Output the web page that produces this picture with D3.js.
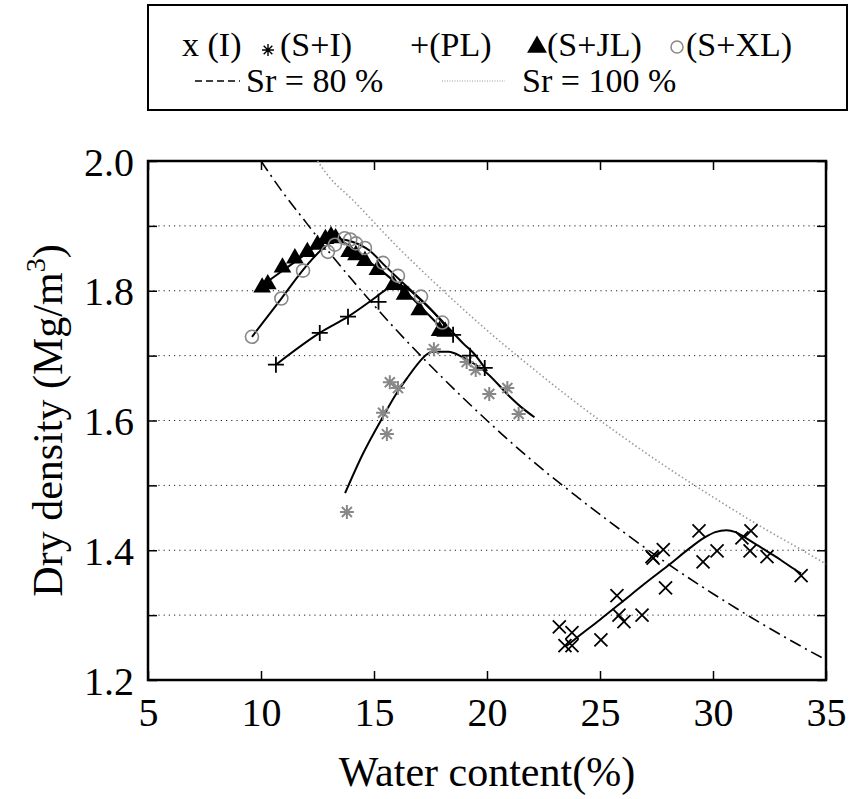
<!DOCTYPE html>
<html>
<head>
<meta charset="utf-8">
<script src="https://cdn.jsdelivr.net/npm/d3@7"></script>
<style>
  body { margin: 0; background: #fff; }
  svg text { font-family: 'Liberation Serif', 'Times New Roman', Times, 'DejaVu Serif', serif; }
</style>
</head>
<body>
<svg id="chart" width="850" height="799"></svg>
<script>
// measured points (water content %, dry density Mg/m3)
const iPts = [[23.2,1.282],[23.76,1.273],[23.45,1.253],[23.76,1.253],[25.04,1.262],[25.75,1.330],[25.84,1.300],[26.06,1.290],[26.86,1.300],[27.3,1.390],[27.35,1.388],[27.8,1.401],[27.9,1.342],[29.38,1.430],[29.56,1.382],[30.18,1.399],[31.28,1.419],[31.68,1.430],[31.64,1.399],[32.39,1.390],[33.9,1.361]];
const siPts = [[13.8,1.459],[15.4,1.612],[15.57,1.579],[15.7,1.659],[16.06,1.650],[17.65,1.710],[19.1,1.690],[19.5,1.678],[20.1,1.641],[20.9,1.650],[21.4,1.610]];
const plPts = [[10.66,1.686],[12.6,1.735],[13.85,1.760],[15.2,1.783],[16.2,1.805],[18.5,1.732],[19.25,1.700],[19.9,1.681]];
const jlPts = [[10.05,1.805],[10.3,1.810],[10.95,1.836],[11.5,1.850],[12.05,1.860],[12.5,1.871],[12.85,1.880],[13.1,1.884],[13.3,1.881],[13.9,1.860],[14.2,1.855],[14.6,1.846],[15.15,1.832],[15.85,1.809],[16.35,1.794],[17.0,1.770],[17.9,1.738],[18.15,1.737]];
const xlPts = [[9.6,1.729],[10.9,1.788],[11.86,1.831],[12.96,1.860],[13.27,1.871],[13.7,1.881],[13.95,1.879],[14.2,1.873],[14.6,1.866],[15.4,1.843],[16.06,1.823],[17.08,1.791],[18.02,1.751]];

// fitted compaction curves
const iFit = [[23.5,1.252],[24,1.266],[25,1.293],[26,1.321],[27,1.349],[28,1.376],[29,1.404],[29.6,1.419],[30.1,1.428],[30.6,1.431],[31.0,1.428],[31.5,1.418],[32,1.407],[32.5,1.396],[33,1.385],[33.5,1.373],[33.9,1.364]];
const siFit = [[13.72,1.488],[14.5,1.548],[15.4,1.606],[16.0,1.642],[16.5,1.667],[17.0,1.690],[17.3,1.701],[17.6,1.706],[18.3,1.706],[18.9,1.698],[19.5,1.686],[20.0,1.673],[21.0,1.637],[21.5,1.621],[22.1,1.605]];
const plFit = [[10.66,1.686],[12.6,1.735],[13.85,1.760],[15.0,1.788],[15.5,1.801],[16.0,1.810],[16.5,1.803],[17.0,1.788],[18.0,1.754],[19.0,1.717],[19.4,1.704],[20.0,1.676]];
const jlFit = [[10.2,1.812],[11.0,1.832],[12.0,1.857],[12.7,1.876],[13.1,1.884],[13.6,1.876],[14.5,1.852],[15.5,1.826],[16.5,1.795],[17.5,1.760],[18.0,1.742]];
const xlFit = [[9.6,1.729],[10.9,1.788],[12.0,1.838],[12.7,1.864],[13.2,1.876],[13.6,1.879],[14.0,1.876],[14.8,1.862],[15.5,1.838],[16.5,1.805],[17.5,1.772],[18.2,1.744]];

// saturation lines
const sr80 = [[10,2.000],[11,1.950],[12,1.905],[13,1.860],[14,1.818],[16,1.739],[18,1.667],[20,1.600],[22,1.538],[24,1.482],[26,1.429],[28,1.379],[30,1.333],[32,1.290],[34,1.250],[35,1.231]];
const sr100 = [[12.5,2.000],[13,1.976],[14,1.942],[16,1.869],[18,1.802],[20,1.739],[22,1.681],[24,1.626],[26,1.575],[28,1.527],[30,1.482],[32,1.439],[34,1.399],[35,1.379]];

const xTicks = [5,10,15,20,25,30,35];
const yTicks = [1.2,1.3,1.4,1.5,1.6,1.7,1.8,1.9,2.0];
const yLabels = [1.2,1.4,1.6,1.8,2.0];

const serif = "'Liberation Serif', 'Times New Roman', Times, 'DejaVu Serif', serif";
const margin = {left: 148, top: 161, right: 24, bottom: 119};
const width = 850 - margin.left - margin.right;
const height = 799 - margin.top - margin.bottom;

const svg = d3.select('#chart').attr('font-family', serif);
const g = svg.append('g').attr('transform', `translate(${margin.left},${margin.top})`);

const x = d3.scaleLinear().domain([5, 35]).range([0, width]);
const y = d3.scaleLinear().domain([1.2, 2.0]).range([height, 0]);

// horizontal dotted grid
g.append('g')
  .selectAll('line')
  .data(yTicks.filter(d => d > 1.2 && d < 2.0))
  .enter().append('line')
  .attr('x1', 0).attr('x2', width)
  .attr('y1', d => y(d)).attr('y2', d => y(d))
  .attr('stroke', '#222')
  .attr('stroke-width', 1)
  .attr('stroke-dasharray', '1.2,4');

// axes with inward ticks
const fmt = d => yLabels.some(v => Math.abs(v - d) < 1e-6) ? d.toFixed(1) : '';
const axBottom = g.append('g').attr('transform', `translate(0,${height})`)
  .call(d3.axisBottom(x).tickValues(xTicks).tickSize(-9).tickPadding(14));
const axTop = g.append('g')
  .call(d3.axisTop(x).tickValues(xTicks).tickSize(-9).tickFormat(''));
const axLeft = g.append('g')
  .call(d3.axisLeft(y).tickValues(yTicks).tickSize(-9).tickPadding(14).tickFormat(fmt));
const axRight = g.append('g').attr('transform', `translate(${width},0)`)
  .call(d3.axisRight(y).tickValues(yTicks).tickSize(-9).tickFormat(''));

[axBottom, axTop, axLeft, axRight].forEach(a => {
  a.attr('font-family', serif);
  a.select('.domain').remove();
  a.selectAll('.tick line').attr('stroke', '#000').attr('stroke-width', 1.5);
});
axBottom.selectAll('text').attr('font-size', 40).attr('fill', '#000')
  .attr('y', 18).attr('dy', '0.71em');
axLeft.selectAll('text').attr('font-size', 40).attr('fill', '#000')
  .attr('x', -14).attr('dy', '0.35em');

g.append('rect')
  .attr('width', width).attr('height', height)
  .attr('fill', 'none').attr('stroke', '#000').attr('stroke-width', 2.5);

const smooth = d3.line().x(d => x(d[0])).y(d => y(d[1])).curve(d3.curveMonotoneX);

g.append('path').datum(sr80).attr('d', smooth)
  .attr('fill', 'none').attr('stroke', '#000').attr('stroke-width', 1.6)
  .attr('stroke-dasharray', '12,5,2,5');
g.append('path').datum(sr100).attr('d', smooth)
  .attr('fill', 'none').attr('stroke', '#999').attr('stroke-width', 1.6)
  .attr('stroke-dasharray', '1.5,2.5');

[iFit, siFit, plFit, jlFit, xlFit].forEach(f => {
  g.append('path').datum(f).attr('d', smooth)
    .attr('fill', 'none').attr('stroke', '#000').attr('stroke-width', 2);
});

// marker shapes
const crossPath = s => `M${-s},${-s}L${s},${s}M${-s},${s}L${s},${-s}`;
const plusPath = s => `M${-s},0L${s},0M0,${-s}L0,${s}`;
const starPath = s => { const k = s * 0.72; return plusPath(s) + crossPath(k); };

function markers(pts, pathStr, stroke, sw) {
  g.append('g').selectAll('path').data(pts).enter().append('path')
    .attr('transform', d => `translate(${x(d[0])},${y(d[1])})`)
    .attr('d', pathStr)
    .attr('fill', 'none').attr('stroke', stroke).attr('stroke-width', sw);
}

markers(iPts, crossPath(6.5), '#000', 1.8);
markers(siPts, starPath(7), '#888', 2);
markers(plPts, plusPath(8), '#000', 1.8);

g.append('g').selectAll('path').data(jlPts).enter().append('path')
  .attr('transform', d => `translate(${x(d[0])},${y(d[1])})`)
  .attr('d', d3.symbol(d3.symbolTriangle).size(135))
  .attr('fill', '#000');

g.append('g').selectAll('circle').data(xlPts).enter().append('circle')
  .attr('cx', d => x(d[0])).attr('cy', d => y(d[1])).attr('r', 6.5)
  .attr('fill', 'none').attr('stroke', '#888').attr('stroke-width', 1.6);

// axis titles
svg.append('text')
  .attr('x', margin.left + width / 2).attr('y', 786)
  .attr('text-anchor', 'middle').attr('font-size', 42)
  .text('Water content(%)');

const yt = svg.append('text')
  .attr('transform', `translate(62,${margin.top + height / 2}) rotate(-90)`)
  .attr('text-anchor', 'middle').attr('font-size', 42);
yt.append('tspan').text('Dry density (Mg/m');
yt.append('tspan').attr('font-size', 28).attr('dy', -17).text('3');
yt.append('tspan').attr('dy', 17).text(')');

// legend
const leg = svg.append('g');
leg.append('rect').attr('x', 148).attr('y', 5).attr('width', 699).attr('height', 105)
  .attr('fill', '#fff').attr('stroke', '#000').attr('stroke-width', 2);

const row1 = 56, row2 = 92;
leg.append('text').attr('x', 182).attr('y', row1).attr('font-size', 34).text('x (I)');
leg.append('path').attr('transform', `translate(268,${row1 - 6})`).attr('d', starPath(6))
  .attr('stroke', '#000').attr('stroke-width', 1.4);
leg.append('text').attr('x', 280).attr('y', row1).attr('font-size', 34).text('(S+I)');
leg.append('text').attr('x', 410).attr('y', row1).attr('font-size', 34).text('+(PL)');
leg.append('path').attr('transform', `translate(537,${row1 - 9})`)
  .attr('d', d3.symbol(d3.symbolTriangle).size(170)).attr('fill', '#000');
leg.append('text').attr('x', 547).attr('y', row1).attr('font-size', 34).text('(S+JL)');
leg.append('circle').attr('cx', 677).attr('cy', row1 - 9).attr('r', 6)
  .attr('fill', 'none').attr('stroke', '#888').attr('stroke-width', 1.5);
leg.append('text').attr('x', 686).attr('y', row1).attr('font-size', 34).text('(S+XL)');

leg.append('line').attr('x1', 195).attr('x2', 240).attr('y1', row2 - 11).attr('y2', row2 - 11)
  .attr('stroke', '#000').attr('stroke-width', 1.5).attr('stroke-dasharray', '7,4');
leg.append('text').attr('x', 246).attr('y', row2).attr('font-size', 34).text('Sr = 80 %');
leg.append('line').attr('x1', 442).attr('x2', 505).attr('y1', row2 - 11).attr('y2', row2 - 11)
  .attr('stroke', '#999').attr('stroke-width', 1.2).attr('stroke-dasharray', '1,1.5');
leg.append('text').attr('x', 522).attr('y', row2).attr('font-size', 34).text('Sr = 100 %');
</script>
</body>
</html>
